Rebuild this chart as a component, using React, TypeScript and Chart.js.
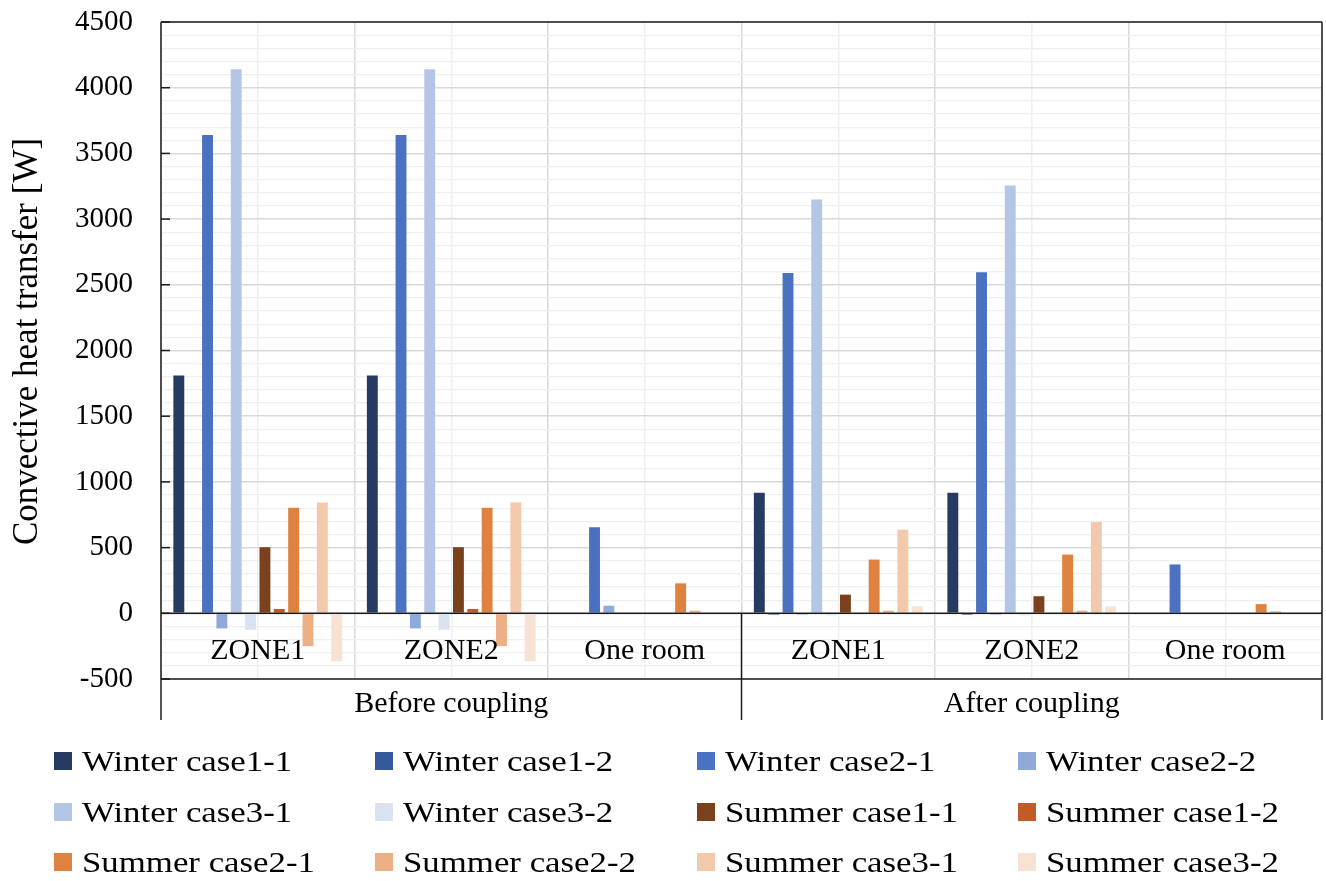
import React, { useEffect, useRef } from "react";
import { Chart, registerables } from "chart.js";

Chart.register(...registerables);

const categories = ["ZONE1", "ZONE2", "One room", "ZONE1", "ZONE2", "One room"];
const groups = ["Before coupling", "After coupling"];
const groupSpan = 3;

const seriesNames = [
  "Winter case1-1", "Winter case1-2", "Winter case2-1", "Winter case2-2",
  "Winter case3-1", "Winter case3-2", "Summer case1-1", "Summer case1-2",
  "Summer case2-1", "Summer case2-2", "Summer case3-1", "Summer case3-2",
];

const winterCase1_1 = [1810, 1810, 0, 917, 917, 0];
const winterCase1_2 = [0, 0, 0, -10, -10, 0];
const winterCase2_1 = [3640, 3640, 655, 2590, 2595, 372];
const winterCase2_2 = [-115, -115, 58, -10, -10, 0];
const winterCase3_1 = [4140, 4140, 0, 3150, 3255, 0];
const winterCase3_2 = [-125, -125, 0, -15, -15, 0];
const summerCase1_1 = [503, 503, 0, 142, 130, 0];
const summerCase1_2 = [33, 33, 0, 0, 0, 0];
const summerCase2_1 = [803, 803, 228, 409, 447, 70];
const summerCase2_2 = [-250, -250, 20, 20, 20, 15];
const summerCase3_1 = [843, 843, 0, 637, 695, 0];
const summerCase3_2 = [-365, -365, 0, 53, 53, 0];

const seriesValues = [
  winterCase1_1, winterCase1_2, winterCase2_1, winterCase2_2,
  winterCase3_1, winterCase3_2, summerCase1_1, summerCase1_2,
  summerCase2_1, summerCase2_2, summerCase3_1, summerCase3_2,
];

const seriesColors = [
  "#263A62", "#355899", "#4A72C0", "#8EA9DA",
  "#B4C6E6", "#DAE2F2", "#7A411C", "#C05A26",
  "#E0823F", "#EDB086", "#F2CAAB", "#F8E2D4",
];

const yMin = -500;
const yMax = 4500;
const yMajorStep = 500;
const yMinorStep = 100;

const yTitle = "Convective heat transfer [W]";

const FONT = "'Liberation Serif', 'Times New Roman', serif";

const decorPlugin = {
  id: "decor",
  afterDraw(chart: any) {
    const { ctx, chartArea: ca, scales } = chart;
    const xs = scales.x;
    const ys = scales.y;
    const zeroY = ys.getPixelForValue(0);
    const labelBottom = ca.bottom + 41;
    ctx.save();
    ctx.strokeStyle = "#1c1c1c";
    ctx.lineWidth = 1.5;
    const line = (x1: number, y1: number, x2: number, y2: number) => {
      ctx.beginPath();
      ctx.moveTo(x1, y1);
      ctx.lineTo(x2, y2);
      ctx.stroke();
    };
    // frame
    line(ca.left, ca.top, ca.right, ca.top);
    line(ca.left, ca.top, ca.left, labelBottom);
    line(ca.right, ca.top, ca.right, labelBottom);
    line(ca.left, ca.bottom, ca.right, ca.bottom);
    // zero axis
    line(ca.left, zeroY, ca.right, zeroY);
    // group dividers
    for (let g = 1; g < groups.length; g++) {
      const i = g * groupSpan;
      const xb = (xs.getPixelForValue(i - 1) + xs.getPixelForValue(i)) / 2;
      line(xb, zeroY, xb, labelBottom);
    }
    // y tick marks (inside)
    for (let v = yMin; v <= yMax; v += yMajorStep) {
      const yy = ys.getPixelForValue(v);
      line(ca.left, yy, ca.left + 9, yy);
    }
    // category labels
    ctx.fillStyle = "#000";
    ctx.textAlign = "center";
    ctx.textBaseline = "middle";
    ctx.font = `30px ${FONT}`;
    categories.forEach((c, i) => {
      ctx.fillText(c, xs.getPixelForValue(i), zeroY + 38);
    });
    // group labels
    const half = (xs.getPixelForValue(1) - xs.getPixelForValue(0)) / 2;
    groups.forEach((g, gi) => {
      const a = xs.getPixelForValue(gi * groupSpan) - half;
      const b = xs.getPixelForValue(gi * groupSpan + groupSpan - 1) + half;
      ctx.fillText(g, (a + b) / 2, ca.bottom + 25);
    });
    // y axis title
    ctx.save();
    ctx.translate(28, (ca.top + ca.bottom) / 2 - 9);
    ctx.rotate(-Math.PI / 2);
    ctx.font = `35px ${FONT}`;
    ctx.fillText(yTitle, 0, 0);
    ctx.restore();
    ctx.restore();
  },
};

const legendCols = [54, 375, 697, 1018];
const legendRows = [761, 811.5, 862];

export default function App() {
  const ref = useRef<HTMLCanvasElement>(null);

  useEffect(() => {
    Chart.defaults.font.family = FONT;
    const chart = new Chart(ref.current as HTMLCanvasElement, {
      type: "bar",
      data: {
        labels: categories,
        datasets: seriesNames.map((name, i) => ({
          label: name,
          data: seriesValues[i],
          backgroundColor: seriesColors[i],
          borderWidth: 0,
          categoryPercentage: 0.89,
          barPercentage: 0.76,
        })),
      },
      options: {
        responsive: false,
        animation: false,
        maintainAspectRatio: false,
        layout: { padding: { left: 0, top: 22, right: 4, bottom: 202 } },
        plugins: {
          legend: { display: false },
          tooltip: { enabled: false },
        },
        scales: {
          x: {
            type: "category",
            offset: true,
            ticks: { display: false },
            grid: { display: true, offset: true, color: "#d9d9d9", lineWidth: 1.5, drawTicks: false },
            border: { display: false },
          },
          x2: {
            type: "category",
            position: "bottom",
            offset: true,
            ticks: { display: false },
            grid: { display: true, offset: false, color: "#efefef", lineWidth: 1.5, drawTicks: false },
            border: { display: false },
          },
          y: {
            type: "linear",
            min: yMin,
            max: yMax,
            afterFit: (scale: any) => {
              scale.width = 161;
              scale.paddingTop = 0;
              scale.paddingBottom = 0;
            },
            ticks: {
              stepSize: yMinorStep,
              autoSkip: false,
              padding: 28,
              color: "#000",
              font: { size: 29, family: FONT },
              callback: (v: any) => (Number(v) % yMajorStep === 0 ? String(v) : ""),
            },
            grid: {
              drawTicks: false,
              color: (c: any) => (c.tick && c.tick.value % yMajorStep === 0 ? "#d9d9d9" : "#efefef"),
              lineWidth: (c: any) => (c.tick && c.tick.value % yMajorStep === 0 ? 1.5 : 1.2),
            },
            border: { display: false },
            title: { display: false },
          },
        },
      },
      plugins: [decorPlugin],
    } as any);
    return () => chart.destroy();
  }, []);

  return (
    <div style={{ position: "absolute", left: 0, top: 0, width: 1326, height: 881, background: "#fff" }}>
      <canvas ref={ref} width={1326} height={881} style={{ display: "block", width: 1326, height: 881 }} />
      {seriesNames.map((name, i) => {
        const col = i % 4;
        const row = Math.floor(i / 4);
        return (
          <div
            key={name}
            style={{
              position: "absolute",
              left: legendCols[col],
              top: legendRows[row] - 18,
              height: 36,
              display: "flex",
              alignItems: "center",
              whiteSpace: "nowrap",
            }}
          >
            <span style={{ display: "inline-block", width: 18, height: 18, background: seriesColors[i] }} />
            <span
              style={{
                display: "inline-block",
                marginLeft: 10,
                fontFamily: FONT,
                fontSize: 30,
                lineHeight: "36px",
                color: "#000",
                transform: "scaleX(1.16)",
                transformOrigin: "left center",
              }}
            >
              {name}
            </span>
          </div>
        );
      })}
    </div>
  );
}
